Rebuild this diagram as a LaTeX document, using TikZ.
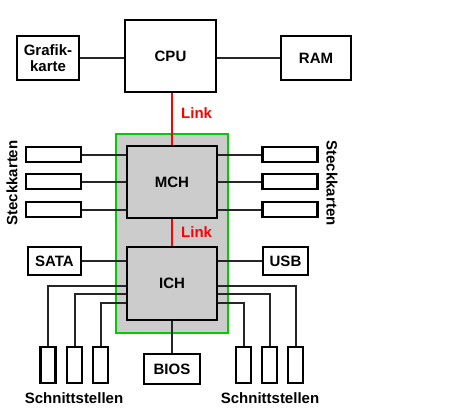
\documentclass[tikz,border=0pt]{standalone}
\usepackage{fontspec}
\setmainfont{Liberation Sans}
\usetikzlibrary{positioning}

\begin{document}
\begin{tikzpicture}[x=1pt,y=-1pt]
      \tikzset{
        every node/.style={font=\bfseries\fontsize{15}{15.5}\selectfont,inner sep=0pt},
        box/.style={rectangle,draw,line width=2.2pt,fill=white,align=center},
        chip/.style={box,fill=black!20,minimum width=90pt,minimum height=72pt},
        slot/.style={box,minimum width=55pt,minimum height=15pt},
        port/.style={box,minimum width=15pt,minimum height=36pt},
        wire/.style={line width=2pt,black!85},
        link/.style={line width=2pt,red}
      }
      \useasboundingbox (0,0) rectangle (456,408);

      % Chipsatz
      \node[draw=green!80!black,line width=1.6pt,fill=black!20,
            minimum width=112pt,minimum height=199pt] (chipsatz) at (172,233.5) {};

      \node[box,minimum width=91pt,minimum height=72pt] (cpu) at (170.5,56) {CPU};
      \node[box,minimum width=62pt,minimum height=44pt] (gk) at (48,58) {Grafik-\\karte};
      \node[box,minimum width=70pt,minimum height=44pt] (ram) at (316,58) {RAM};
      \node[chip] (mch) at (172,182) {MCH};
      \node[chip,minimum height=73pt] (ich) at (172,283.5) {ICH};

      \node[box,minimum width=53pt,minimum height=28pt] (sata) at (54.5,261) {SATA};
      \node[box,minimum width=45pt,minimum height=28pt] (usb) at (285.5,261) {USB};
      \node[box,minimum width=56pt,minimum height=30pt] (bios) at (172,369) {BIOS};

      \foreach \i/\y in {1/154.5,2/181.5,3/209.5} {
        \node[slot] (sl\i) at (53.5,\y) {};
        \node[slot] (sr\i) at (290,\y) {};
        \draw[wire] (sl\i) -- (sl\i -| mch.west)
                    (sr\i) -- (sr\i -| mch.east);
      }

      \foreach \i/\x in {1/48,2/74.5,3/100.5}
        \node[port] (pl\i) at (\x,365) {};
      \foreach \i/\x in {1/295.5,2/269.5,3/243.5}
        \node[port] (pr\i) at (\x,365) {};

      \draw[wire] (gk) -- (gk -| cpu.west)
                  (ram) -- (ram -| cpu.east)
                  (sata) -- (sata -| ich.west)
                  (usb) -- (usb -| ich.east)
                  (ich) -- (bios);
      \draw[wire] (pl1.north) |- (ich.west |- 0,286)
                  (pl2.north) |- (ich.west |- 0,294)
                  (pl3.north) |- (ich.west |- 0,303)
                  (pr1.north) |- (ich.east |- 0,286)
                  (pr2.north) |- (ich.east |- 0,294)
                  (pr3.north) |- (ich.east |- 0,303);

      \draw[link] (cpu.south -| mch) -- (mch.north);
      \draw[link] (mch) -- (ich);
      \node[red,anchor=west] (link1) at (181,113) {Link};
      \node[red,anchor=west] (link2) at (181,232) {Link};

      \node[rotate=90] (stl) at (12,183) {Steckkarten};
      \node[rotate=-90] (str) at (332,183) {Steckkarten};
      \node (snl) at (74,398) {Schnittstellen};
      \node (snr) at (270,398) {Schnittstellen};
    \end{tikzpicture}
\end{document}
